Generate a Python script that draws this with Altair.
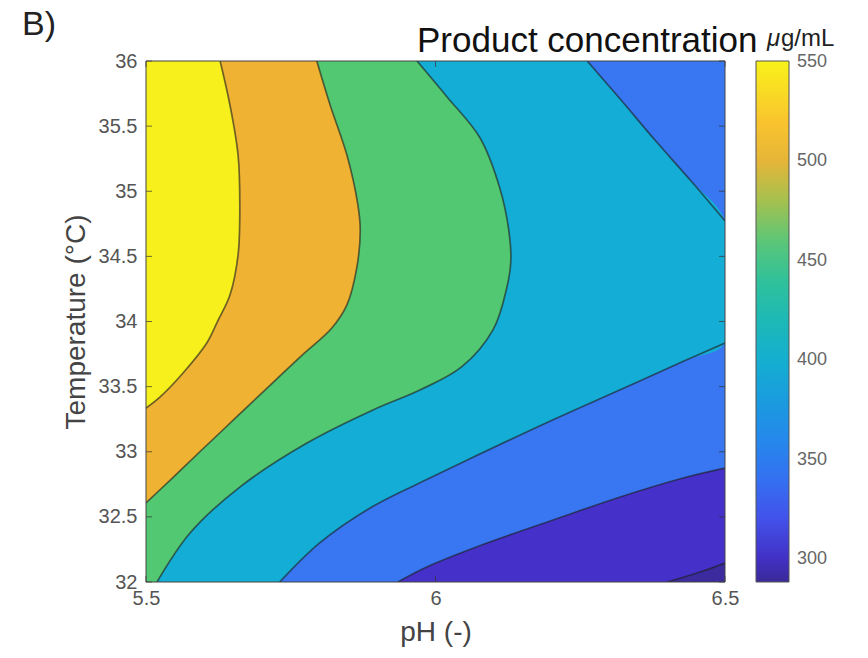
import altair as alt
import pandas as pd

# ---------------- data ----------------
PH_MIN, PH_MAX = 5.5, 6.5
T_MIN, T_MAX = 32.0, 36.0

x_ticks = [5.5, 6.0, 6.5]
y_ticks = [32, 32.5, 33, 33.5, 34, 34.5, 35, 35.5, 36]
cbar_ticks = [300, 350, 400, 450, 500, 550]

# contour lines (temperature, pH)
A_T = [33.336, 33.420, 33.605, 33.835, 33.996, 34.203, 34.511, 34.894, 35.278, 35.662, 36.0]
A_pH = [5.500, 5.524, 5.564, 5.605, 5.623, 5.645, 5.659, 5.662, 5.659, 5.645, 5.628]

B_T = [32.607, 32.800, 33.000, 33.244, 33.497, 33.727, 33.950, 34.127, 34.411, 34.702, 34.894, 35.278, 35.662, 36.0]
B_pH = [5.500, 5.546, 5.593, 5.651, 5.711, 5.766, 5.821, 5.847, 5.864, 5.870, 5.866, 5.847, 5.818, 5.795]

C_T = [32.0, 32.376, 32.729, 33.067, 33.321, 33.474, 33.651, 33.942, 34.257, 34.457, 34.687, 35.025, 35.409, 35.724, 36.0]
C_pH = [5.519, 5.576, 5.662, 5.778, 5.892, 5.973, 6.045, 6.100, 6.123, 6.130, 6.127, 6.111, 6.077, 6.020, 5.968]

D_T = [32.0, 32.300, 32.576, 32.783, 32.937, 33.221, 33.474, 33.704, 33.835]
D_pH = [5.731, 5.800, 5.890, 5.983, 6.055, 6.191, 6.318, 6.433, 6.5]

D2_T = [34.772, 35.086, 35.393, 35.708, 36.0]
D2_pH = [6.5, 6.440, 6.379, 6.319, 6.262]

E_T = [32.0, 32.115, 32.299, 32.476, 32.653, 32.806, 32.875]
E_pH = [5.935, 5.985, 6.089, 6.203, 6.319, 6.434, 6.5]

F_T = [32.0, 32.077, 32.146]
F_pH = [6.400, 6.457, 6.5]

band_colors = ["#f7f01c", "#efb233", "#52c872", "#14add6", "#3876f2", "#4531c9", "#3c2b9e"]

cbar_domain = [288.5, 300, 312, 325, 350, 375, 400, 425, 450, 470, 488, 505, 525, 550.5]
cbar_colors = ["#3a2a98", "#4230c4", "#4840e0", "#3f5cf0", "#2c7ef2", "#1a98e2", "#14aed0",
               "#1fbcb0", "#3cc58c", "#7cc662", "#c4bd40", "#f3b234", "#fbca2c", "#f7f21a"]

# ---------------- layout ----------------
W, H = 579, 521
LEFT, TOP = 146, 61
FONT = "Liberation Sans"

x_enc = alt.X("ph:Q", scale=alt.Scale(domain=[PH_MIN, PH_MAX], nice=False, zero=False),
              axis=alt.Axis(values=x_ticks, format="~g", title="pH (-)", ticks=False, domain=False,
                            grid=False, labelFontSize=20, labelColor="#555", labelPadding=6,
                            labelFlush=False, titleFontSize=28, titleFontWeight="normal",
                            titleColor="#444", titlePadding=10))
y_enc = alt.Y("T:Q", scale=alt.Scale(domain=[T_MIN, T_MAX], nice=False, zero=False),
              axis=alt.Axis(values=y_ticks, format="~g", title="Temperature (°C)", ticks=False,
                            domain=False, grid=False, labelFontSize=20, labelColor="#555",
                            labelPadding=9, titleFontSize=28, titleFontWeight="normal",
                            titleColor="#444", titlePadding=8))


def band(Ts, pHs, color, interp="catmull-rom"):
    df = pd.DataFrame({"T": Ts, "ph": pHs, "ph2": [PH_MAX] * len(Ts)})
    return alt.Chart(df).mark_area(orient="horizontal", interpolate=interp,
                                   color=color, clip=True).encode(
        x=x_enc, x2=alt.X2("ph2:Q"), y=y_enc)


EPS = 0.008  # one pixel of overlap so that no seam shows
layers = [
    band([T_MIN, T_MAX], [PH_MIN, PH_MIN], band_colors[0], "linear"),
    band([T_MIN, A_T[0] + EPS], [PH_MIN, PH_MIN], band_colors[1], "linear"),
    band(A_T, A_pH, band_colors[1]),
    band([T_MIN, B_T[0] + EPS], [PH_MIN, PH_MIN], band_colors[2], "linear"),
    band(B_T, B_pH, band_colors[2]),
    band(C_T, C_pH, band_colors[3]),
    band(D_T + D2_T, D_pH + D2_pH, band_colors[4]),
    band(E_T, E_pH, band_colors[5]),
    band(F_T, F_pH, band_colors[6]),
]

rows = []
for name, Ts, Ps in [("A", A_T, A_pH), ("B", B_T, B_pH), ("C", C_T, C_pH), ("D", D_T, D_pH),
                     ("D2", D2_T, D2_pH), ("E", E_T, E_pH), ("F", F_T, F_pH)]:
    for i, (t, p) in enumerate(zip(Ts, Ps)):
        rows.append({"piece": name, "T": t, "ph": p, "i": i})
lines = alt.Chart(pd.DataFrame(rows)).mark_line(
    interpolate="catmull-rom", color="#1e1e1e", strokeWidth=1.7, opacity=0.62, clip=True
).encode(x=x_enc, y=y_enc, detail="piece:N", order="i:Q")
layers.append(lines)

# inward tick marks (MATLAB style)
yt = pd.DataFrame({"T": y_ticks})
xt = pd.DataFrame({"ph": x_ticks})
tick_style = dict(color="#333", strokeWidth=1, opacity=0.7)
layers.append(alt.Chart(yt).mark_rule(**tick_style).encode(y=y_enc, x=alt.value(0), x2=alt.value(6)))
layers.append(alt.Chart(yt).mark_rule(**tick_style).encode(y=y_enc, x=alt.value(W - 6), x2=alt.value(W)))
layers.append(alt.Chart(xt).mark_rule(**tick_style).encode(x=x_enc, y=alt.value(H - 6), y2=alt.value(H)))
layers.append(alt.Chart(xt).mark_rule(**tick_style).encode(x=x_enc, y=alt.value(0), y2=alt.value(6)))

# frame
layers.append(alt.Chart(pd.DataFrame({"a": [0]})).mark_rect(
    fillOpacity=0, stroke="#444", strokeWidth=1).encode(
    x=alt.value(0), x2=alt.value(W), y=alt.value(0), y2=alt.value(H)))

# colour bar (legend of an invisible layer)
layers.append(alt.Chart(pd.DataFrame({"conc": cbar_domain})).mark_point(size=0, opacity=1, filled=True).encode(
    color=alt.Color("conc:Q",
                    scale=alt.Scale(domain=cbar_domain, range=cbar_colors, interpolate="rgb"),
                    legend=alt.Legend(orient="none", legendX=756 - LEFT, legendY=0,
                                      direction="vertical", title=None, values=cbar_ticks,
                                      gradientLength=H, gradientThickness=33,
                                      labelFontSize=18, labelColor="#666", labelOffset=8,
                                      gradientStrokeColor="#555", gradientStrokeWidth=1,
                                      padding=0))))

# texts
texts = [
    ("B)", 22 - LEFT, 35 - TOP, 34, "normal", "#222"),
    ("Product concentration", 417 - LEFT, 52 - TOP, 35, "normal", "#111"),
    ("μ", 767 - LEFT, 46 - TOP, 24, "italic", "#222"),
    ("g/mL", 781 - LEFT, 46 - TOP, 24, "normal", "#222"),
]
for s, tx, ty, fs, style, col in texts:
    layers.append(alt.Chart(pd.DataFrame({"s": [s]})).mark_text(
        align="left", baseline="alphabetic", fontSize=fs, fontStyle=style, color=col, font=FONT
    ).encode(x=alt.value(tx), y=alt.value(ty), text="s:N"))

chart = alt.layer(*layers).properties(
    width=W, height=H,
    padding={"left": LEFT, "top": TOP, "right": 868 - LEFT - W, "bottom": 658 - TOP - H},
    autosize=alt.AutoSizeParams(type="none"),
    background="white",
).configure(font=FONT).configure_view(strokeWidth=0)

chart.save("out.html", embed_options={"renderer": "svg", "actions": False})
